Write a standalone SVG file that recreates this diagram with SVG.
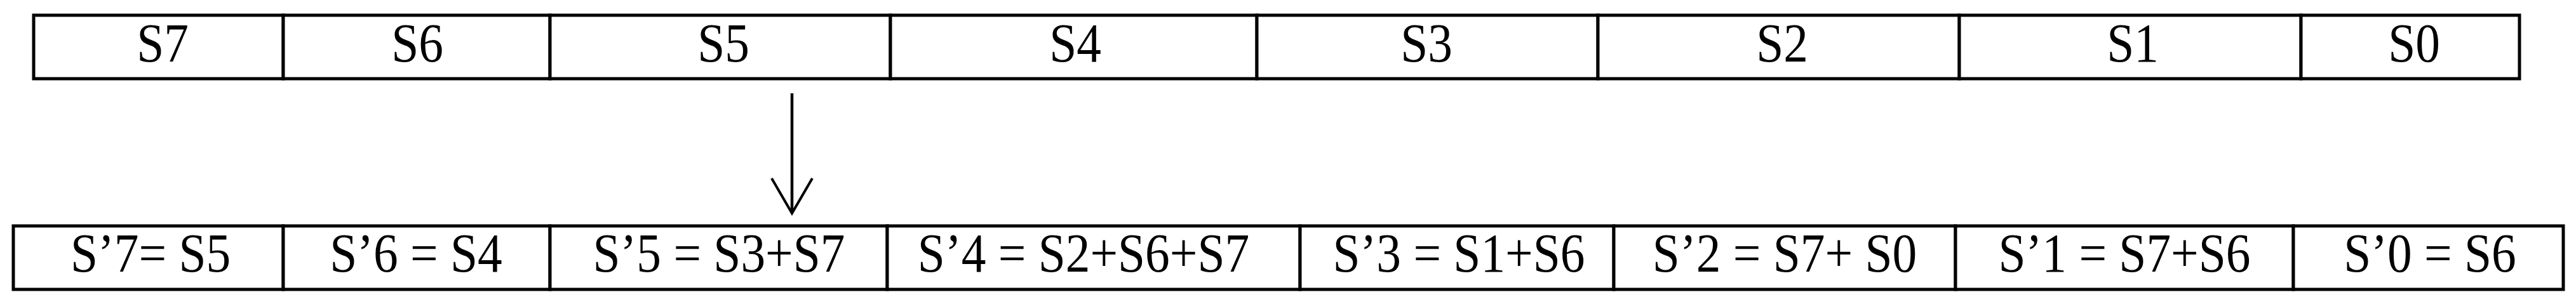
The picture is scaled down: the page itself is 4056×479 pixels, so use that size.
<svg xmlns="http://www.w3.org/2000/svg" width="4056" height="479" viewBox="0 0 4056 479">
<style>
.cell{fill:#fff;stroke:#000;stroke-width:5}
.lbl{font-family:"Liberation Serif","Times New Roman",serif;font-size:86px;fill:#000;text-anchor:middle}
.conn{stroke:#000;stroke-width:4.5;fill:none}
</style>
<defs>
<marker id="vhead" markerUnits="userSpaceOnUse" viewBox="-60 -36 64 72" markerWidth="64" markerHeight="72" refX="0" refY="0" orient="auto" overflow="visible">
<path d="M-55,-32 L0,0 L-55,32" fill="none" stroke="#000" stroke-width="4"/>
</marker>
</defs>
<rect width="4056" height="479" fill="#fff"/>
<g id="top-row">
<g id="S7"><rect class="cell" x="53" y="24" width="393" height="100"/><g transform="translate(256,97) scale(0.9,1)"><text class="lbl" x="0" y="0">S7</text></g></g>
<g id="S6"><rect class="cell" x="446" y="24" width="420" height="100"/><g transform="translate(657,97) scale(0.9,1)"><text class="lbl" x="0" y="0">S6</text></g></g>
<g id="S5"><rect class="cell" x="866" y="24" width="536" height="100"/><g transform="translate(1139,97) scale(0.9,1)"><text class="lbl" x="0" y="0">S5</text></g></g>
<g id="S4"><rect class="cell" x="1402" y="24" width="577" height="100"/><g transform="translate(1693,97) scale(0.9,1)"><text class="lbl" x="0" y="0">S4</text></g></g>
<g id="S3"><rect class="cell" x="1979" y="24" width="537" height="100"/><g transform="translate(2246,97) scale(0.9,1)"><text class="lbl" x="0" y="0">S3</text></g></g>
<g id="S2"><rect class="cell" x="2516" y="24" width="569" height="100"/><g transform="translate(2806,97) scale(0.9,1)"><text class="lbl" x="0" y="0">S2</text></g></g>
<g id="S1"><rect class="cell" x="3085" y="24" width="538" height="100"/><g transform="translate(3358,97) scale(0.9,1)"><text class="lbl" x="0" y="0">S1</text></g></g>
<g id="S0"><rect class="cell" x="3623" y="24" width="344" height="100"/><g transform="translate(3801,97) scale(0.9,1)"><text class="lbl" x="0" y="0">S0</text></g></g>
</g>
<g id="bottom-row">
<g id="S7p"><rect class="cell" x="21" y="356" width="425" height="100"/><g transform="translate(237,428) scale(0.9,1)"><text class="lbl" x="0" y="0">S’7= S5</text></g></g>
<g id="S6p"><rect class="cell" x="446" y="356" width="420" height="100"/><g transform="translate(655,428) scale(0.9,1)"><text class="lbl" x="0" y="0">S’6 = S4</text></g></g>
<g id="S5p"><rect class="cell" x="866" y="356" width="531" height="100"/><g transform="translate(1132,428) scale(0.9,1)"><text class="lbl" x="0" y="0">S’5 = S3+S7</text></g></g>
<g id="S4p"><rect class="cell" x="1397" y="356" width="650" height="100"/><g transform="translate(1706,428) scale(0.9,1)"><text class="lbl" x="0" y="0">S’4 = S2+S6+S7</text></g></g>
<g id="S3p"><rect class="cell" x="2047" y="356" width="494" height="100"/><g transform="translate(2297,428) scale(0.9,1)"><text class="lbl" x="0" y="0">S’3 = S1+S6</text></g></g>
<g id="S2p"><rect class="cell" x="2541" y="356" width="538" height="100"/><g transform="translate(2810,428) scale(0.9,1)"><text class="lbl" x="0" y="0">S’2 = S7+ S0</text></g></g>
<g id="S1p"><rect class="cell" x="3079" y="356" width="532" height="100"/><g transform="translate(3345,428) scale(0.9,1)"><text class="lbl" x="0" y="0">S’1 = S7+S6</text></g></g>
<g id="S0p"><rect class="cell" x="3611" y="356" width="425" height="100"/><g transform="translate(3826,428) scale(0.9,1)"><text class="lbl" x="0" y="0">S’0 = S6</text></g></g>
</g>
<g id="connectors">
<line class="conn" x1="1247" y1="147" x2="1247" y2="336" marker-end="url(#vhead)"/>
</g>
</svg>
